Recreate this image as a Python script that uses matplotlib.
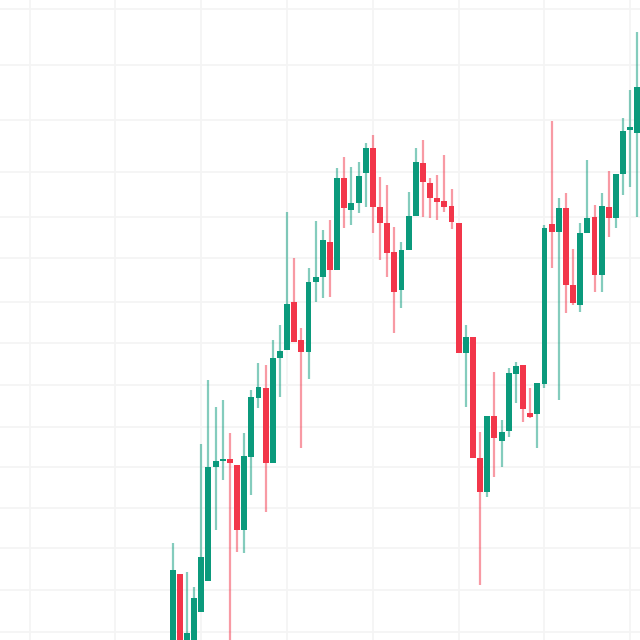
import numpy as np
import matplotlib.pyplot as plt
from matplotlib.patches import Rectangle

# ── Candle data (price units) ───────────────────────────────────────────────
opens = [-20, 66, -10, -2, 28, 59, 173, 179, 181, 175,
         110, 183, 242, 252, 177, 282, 290, 338, 300, 288,
         358, 363, 398, 370, 462, 430, 437, 467, 492, 433,
         417, 388, 350, 390, 424, 477, 457, 442, 439, 434,
         417, 287, 303, 182, 148, 224, 199, 209, 266, 275,
         227, 226, 256, 416, 408, 432, 355, 335, 407, 423,
         365, 433, 422, 466, 510, 507]
closes = [70, -25, 7, 42, 83, 173, 179, 181, 177, 110,
          184, 243, 253, 177, 282, 289, 336, 298, 288, 358,
          363, 400, 370, 462, 432, 437, 464, 492, 433, 417,
          387, 348, 390, 424, 478, 458, 442, 438, 433, 418,
          287, 303, 182, 148, 224, 202, 208, 267, 274, 231,
          223, 257, 412, 408, 432, 355, 337, 407, 422, 365,
          434, 422, 466, 509, 513, 553]
highs = [97, 66, 68, 53, 196, 260, 233, 240, 207, 175,
         207, 250, 277, 275, 300, 315, 428, 382, 312, 372,
         419, 410, 420, 472, 483, 473, 478, 497, 505, 463,
         455, 413, 398, 448, 492, 500, 462, 465, 485, 451,
         417, 315, 303, 208, 224, 268, 220, 272, 278, 275,
         252, 257, 415, 519, 442, 447, 391, 417, 480, 435,
         447, 469, 466, 522, 550, 608]
lows = [-40, -40, -20, -5, 28, 59, 110, 160, -20, 88,
        87, 145, 232, 128, 177, 243, 290, 298, 192, 261,
        338, 342, 343, 370, 412, 415, 427, 433, 407, 380,
        363, 307, 332, 390, 424, 423, 422, 420, 428, 411,
        287, 233, 182, 55, 143, 163, 173, 203, 237, 218,
        222, 192, 252, 372, 240, 327, 335, 328, 407, 348,
        348, 403, 412, 445, 453, 423]

UP_COLOR = "#0b9a7c"
DOWN_COLOR = "#f2364a"
BODY_WIDTH = 0.82

# grid levels (vertical every 12 bars, horizontal price lines)
x_grid = [-20, -8, 4, 16, 28, 40, 52, 64]
y_grid = [8, 50, 92, 132, 173, 213, 255, 297, 338, 382,
          423, 468, 520, 575, 631]

fig = plt.figure(figsize=(6.4, 6.4), dpi=100)
ax = fig.add_axes([0, 0, 1, 1])
ax.set_facecolor("white")

for gx in x_grid:
    ax.axvline(gx, color="#f4f4f4", lw=1.2, zorder=0)
for gy in y_grid:
    ax.axhline(gy, color="#f4f4f4", lw=1.2, zorder=0)

for i, (o, c, h, l) in enumerate(zip(opens, closes, highs, lows)):
    color = UP_COLOR if c >= o else DOWN_COLOR
    ax.plot([i, i], [l, h], color=color, lw=1.6, alpha=0.5,
            solid_capstyle="butt", zorder=2)
    lo, hi = min(o, c), max(o, c)
    ax.add_patch(Rectangle((i - BODY_WIDTH / 2, lo), BODY_WIDTH, max(hi - lo, 1.5),
                           facecolor=color, edgecolor="none", zorder=3))

ax.set_xlim(-24.15, 65.36)
ax.set_ylim(0, 640)
ax.axis("off")

fig.savefig("out.png", dpi=100)
